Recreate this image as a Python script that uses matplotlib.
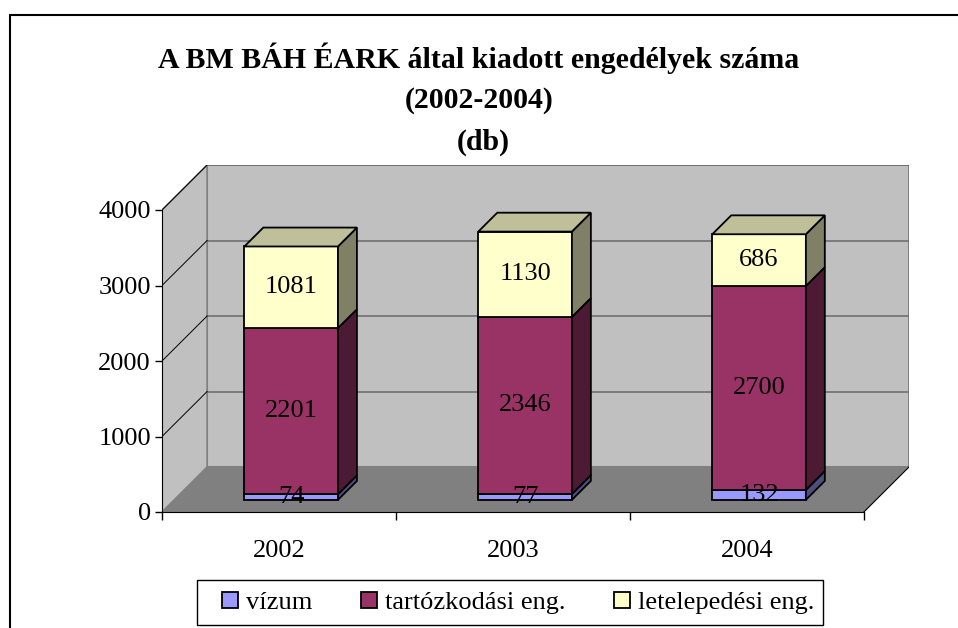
import numpy as np
import matplotlib
matplotlib.use('Agg')
from matplotlib import pyplot as plt
from matplotlib.patches import Polygon, Rectangle

# adatok
years = ['2002', '2003', '2004']
vizum = [74, 77, 132]
tartozkodasi = [2201, 2346, 2700]
letelepedesi = [1081, 1130, 686]
series_names = ['vízum', 'tartózkodási eng.', 'letelepedési eng.']
yticks = [0, 1000, 2000, 3000, 4000]

colors = ['#9999FF', '#993366', '#FFFFCC']

plt.rcParams['font.family'] = ['Liberation Serif', 'DejaVu Serif']

fig = plt.figure(figsize=(9.58, 6.28), dpi=100)
ax = fig.add_axes([162 / 958, 116 / 628, 747 / 958, 347 / 628])

# 3D mélység (adategységben)
DX = 0.1929
DY = 596
ymax = yticks[-1]
n = len(years)
ax.set_xlim(0, n + DX)
ax.set_ylim(0, 347 / 0.0755)


def shade(c, f):
    rgb = np.array(matplotlib.colors.to_rgb(c))
    return tuple(rgb * f)


# falak, padló
ax.add_patch(Polygon([(DX, DY), (n + DX, DY), (n + DX, ymax + DY), (DX, ymax + DY)],
                     closed=True, fc='#C0C0C0', ec='#808080', lw=1.5, zorder=0.5))
ax.add_patch(Polygon([(0, 0), (DX, DY), (DX, ymax + DY), (0, ymax)],
                     closed=True, fc='#C0C0C0', ec='#808080', lw=1.2, zorder=0.5))
ax.add_patch(Polygon([(0, 0), (n, 0), (n + DX, DY), (DX, DY)],
                     closed=True, fc='#808080', ec='none', zorder=0.6))
ax.plot([n, n + DX], [0, DY], color='black', lw=0.8, zorder=0.7)
for v in yticks[1:]:
    ax.plot([DX, n + DX], [v + DY, v + DY], color='#707070', lw=1.2, zorder=0.55)
    ax.plot([0, DX], [v, v + DY], color='black', lw=0.7, zorder=0.55)

# oszlopok
w = 0.4
f0, f1 = 0.27, 0.69  # oszlop eleje/hátulja a mélységben
ox, oy = DX * f0, DY * f0
bx, by = DX * (f1 - f0), DY * (f1 - f0)
x = np.arange(n) + 0.5 + ox
bottom = np.zeros(n)
handles = []
data = [vizum, tartozkodasi, letelepedesi]
for k, vals in enumerate(data):
    vals = np.array(vals, dtype=float)
    bars = ax.bar(x, vals, w, bottom=bottom + oy, color=colors[k], edgecolor='black',
                  lw=1.3, zorder=2, label=series_names[k])
    handles.append(bars)
    for i in range(n):
        x0 = x[i] - w / 2
        x1 = x[i] + w / 2
        yb = bottom[i] + oy
        yt = yb + vals[i]
        ax.add_patch(Polygon([(x1, yb), (x1 + bx, yb + by), (x1 + bx, yt + by), (x1, yt)],
                             closed=True, fc=shade(colors[k], 0.5), ec='black', lw=1.3, zorder=2))
        if k == len(data) - 1:
            ax.add_patch(Polygon([(x0, yt), (x1, yt), (x1 + bx, yt + by), (x0 + bx, yt + by)],
                                 closed=True, fc=shade(colors[k], 0.75), ec='black', lw=1.3, zorder=2))
        ax.text(x[i], yb + vals[i] / 2, '%d' % vals[i], ha='center', va='center',
                fontsize=19, zorder=5)
    bottom = bottom + vals

# tengelyek
for s in ['top', 'right']:
    ax.spines[s].set_visible(False)
ax.spines['left'].set_bounds(0, ymax)
ax.spines['bottom'].set_bounds(0, n)
ax.spines['left'].set_zorder(3)
ax.spines['bottom'].set_zorder(3)
ax.set_yticks(yticks)
ax.tick_params(axis='y', direction='out', length=5, width=1, labelsize=19, pad=3)
ax.set_xticks(np.arange(n + 1))
ax.set_xticklabels([])
ax.tick_params(axis='x', which='major', direction='out', length=6, width=1)
ax.set_xticks(np.arange(n) + 0.5, minor=True)
ax.set_xticklabels(years, minor=True)
ax.tick_params(axis='x', which='minor', length=0, labelsize=19, pad=20)
ax.patch.set_visible(False)

# cím
fig.text(0.5, 1 - 58 / 628, 'A BM BÁH ÉARK által kiadott engedélyek száma',
         ha='center', va='center', fontsize=21.5, fontweight='bold')
fig.text(0.5, 1 - 100 / 628, '(2002-2004)', ha='center', va='center', fontsize=21.5, fontweight='bold')
fig.text(0.505, 1 - 142 / 628, '(db)', ha='center', va='center', fontsize=21.5, fontweight='bold')

# jelmagyarázat (keret külön)
leg = fig.legend(handles=handles, labels=series_names, loc='center left',
                 bbox_to_anchor=(222 / 958, 1 - 603 / 628), ncol=3, fontsize=19,
                 frameon=False, handlelength=0.6, handleheight=0.6, handletextpad=0.3,
                 columnspacing=1.85, borderpad=0, borderaxespad=0)
fig.add_artist(Rectangle((197 / 958, 1 - 625 / 628), 626 / 958, 45 / 628,
                         transform=fig.transFigure, fc='white', ec='black', lw=1.0, zorder=0))

# külső keret
fig.add_artist(Rectangle((10 / 958, -0.1), 1.2, 1.1 - 15 / 628, transform=fig.transFigure,
                         fill=False, ec='black', lw=1.5, clip_on=False))

fig.savefig('out.png', dpi=100)
